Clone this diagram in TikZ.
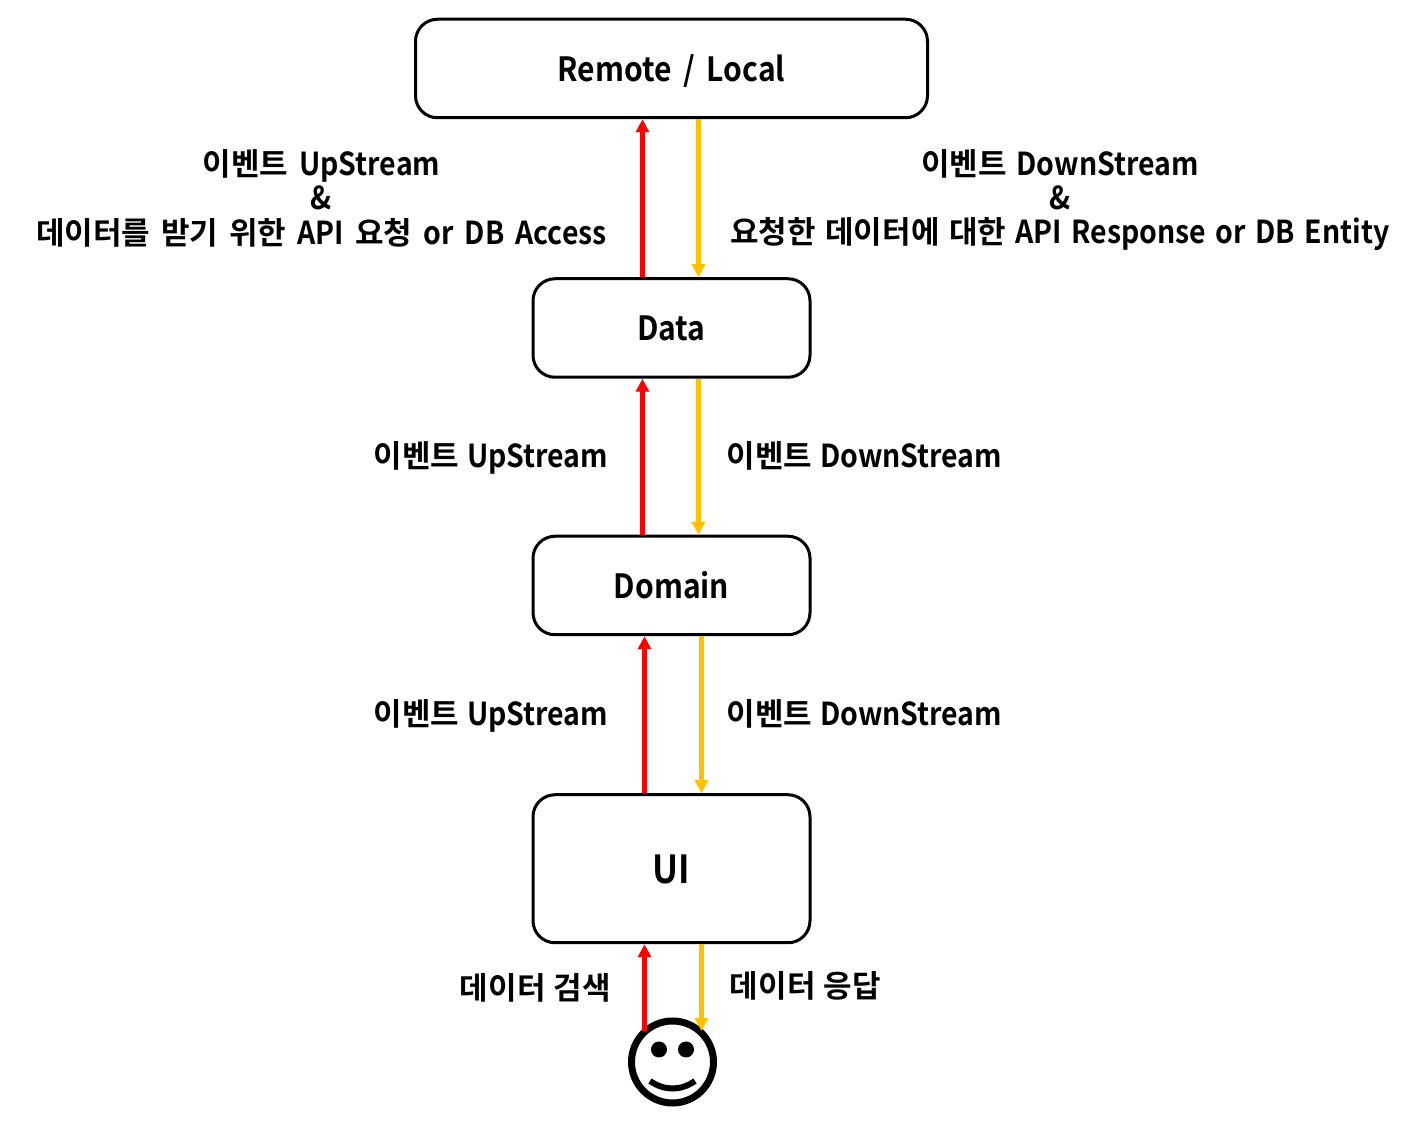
\documentclass[tikz,border=0pt]{standalone}
\usepackage{fontspec}
\setmainfont{Noto Sans CJK KR Bold}[FakeStretch=0.9, WordSpace=1.2]
\newfontfamily\krfont{Noto Sans CJK KR Bold}[Scale=0.98, WordSpace=1.2]
\newcommand{\kr}[1]{{\krfont #1}}
\usetikzlibrary{arrows.meta,
	positioning}
\definecolor{yellowline}{HTML}{FFC000}
\tikzset{
	layerbox/.style={draw=black, line width=0.03cm, rounded corners=0.22cm, inner sep=0pt, outer sep=0pt, minimum width=2.77cm, minimum height=0.985cm, text height=0.36cm, text depth=0.1cm, font=\fontsize{9.5pt}{11pt}\selectfont},
	upstream/.style={draw=red, line width=0.045cm, shorten <=0.015cm, shorten >=0.015cm, -{Triangle[length=0.13cm, width=0.13cm]}},
	downstream/.style={draw=yellowline, line width=0.045cm, shorten <=0.015cm, shorten >=0.015cm, -{Triangle[length=0.13cm, width=0.13cm]}},
	eventlabel/.style={inner sep=0pt, align=center, font=\fontsize{9pt}{9.8pt}\selectfont},
	wordgap/.style={execute at begin node={\spaceskip=#1\relax}}
}
\begin{document}
\begin{tikzpicture}
	\useasboundingbox (0, 0) rectangle (14.22, 11.25);
	% layers
	\node[layerbox, minimum width=5.12cm] (remote) at (6.715, 10.565) {Remote\hspace{0.35em}/\hspace{0.35em}Local};
	\node[layerbox, below=1.61cm of remote] (data) {Data};
	\node[layerbox, below=1.59cm of data] (domain) {Domain};
	\node[layerbox, minimum height=1.48cm, below=1.6cm of domain, text height=0.4cm, font=\fontsize{11pt}{13pt}\selectfont] (ui) {UI};
	% user
	\node[circle, draw=black, line width=0.07cm, minimum size=0.82cm, inner sep=0pt, outer sep=0pt] (user) at (6.725, 0.63) {};
	\fill ([shift={(-0.135, 0.125)}]user.center) circle (0.08);
	\fill ([shift={(0.135, 0.125)}]user.center) circle (0.08);
	\draw[line width=0.06cm] ([shift={(-0.225, -0.19)}]user.center) .. controls ([shift={(-0.08, -0.29)}]user.center) and ([shift={(0.08, -0.29)}]user.center) .. ([shift={(0.225, -0.19)}]user.center);
	% streams
	\draw[upstream] ([xshift=-0.29cm]data.north) -- ([xshift=-0.29cm]remote.south);
	\draw[downstream] ([xshift=0.27cm]remote.south) -- ([xshift=0.27cm]data.north);
	\draw[upstream] ([xshift=-0.29cm]domain.north) -- ([xshift=-0.29cm]data.south);
	\draw[downstream] ([xshift=0.27cm]data.south) -- ([xshift=0.27cm]domain.north);
	\draw[upstream] ([xshift=-0.27cm]ui.north) -- ([xshift=-0.27cm]domain.south);
	\draw[downstream] ([xshift=0.3cm]domain.south) -- ([xshift=0.3cm]ui.north);
	\draw[upstream] ([xshift=-0.27cm]ui.south |- user.134) -- ([xshift=-0.27cm]ui.south);
	\draw[downstream] ([xshift=0.3cm]ui.south) -- ([xshift=0.3cm]ui.south |- user.46);
	% labels
	\node[eventlabel, wordgap=0.35em] (upa) at (3.215, 9.27) {\kr{이벤트} UpStream\\\&\\\kr{데이터를 받기 위한} API \kr{요청} or DB Access};
	\node[eventlabel, wordgap=0.3em] (downa) at (10.6, 9.25) {\kr{이벤트} DownStream\\\&\\\kr{요청한 데이터에 대한} API Response or DB Entity};
	\node[eventlabel] (upb) at (4.91, 6.675) {\kr{이벤트} UpStream};
	\node[eventlabel] (downb) at (8.645, 6.69) {\kr{이벤트} DownStream};
	\node[eventlabel] (upc) at (4.91, 4.095) {\kr{이벤트} UpStream};
	\node[eventlabel] (downc) at (8.645, 4.11) {\kr{이벤트} DownStream};
	\node[eventlabel] (search) at (5.355, 1.375) {\kr{데이터 검색}};
	\node[eventlabel] (answer) at (8.055, 1.395) {\kr{데이터 응답}};
\end{tikzpicture}
\end{document}
